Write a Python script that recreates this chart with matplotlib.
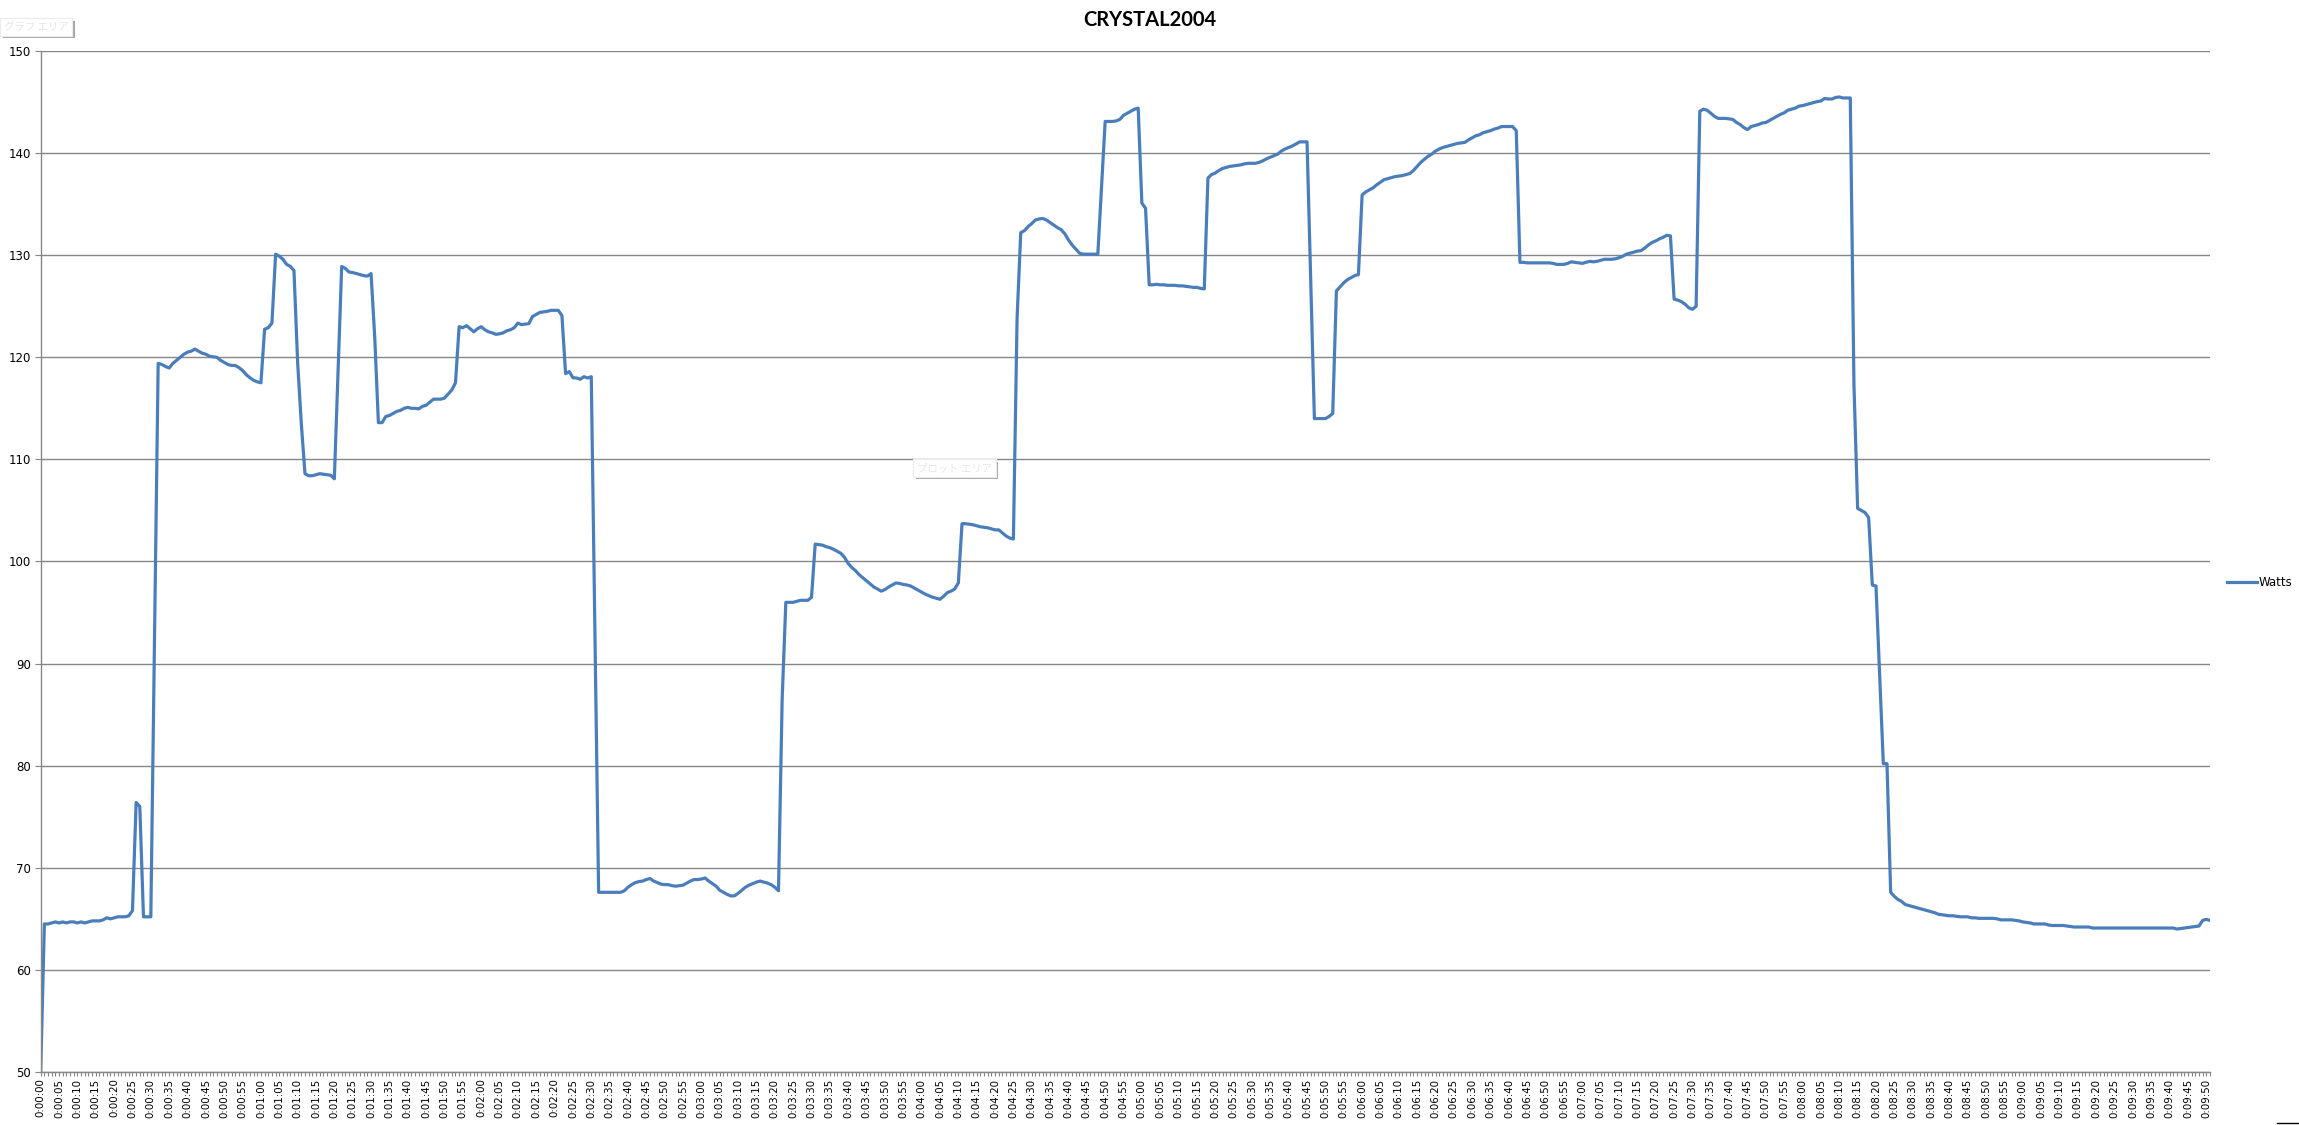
import numpy as np
import matplotlib
matplotlib.use("Agg")
import matplotlib.pyplot as plt
import matplotlib.patheffects as pe
from matplotlib.ticker import MultipleLocator, FixedLocator

# Watts sampled once per second, one list per minute
m0 = [50.0, 64.5, 64.5, 64.6, 64.7, 64.6, 64.7, 64.6, 64.7, 64.7,
      64.6, 64.7, 64.6, 64.7, 64.8, 64.8, 64.8, 64.9, 65.1, 65.0,
      65.1, 65.2, 65.2, 65.2, 65.3, 65.8, 76.4, 76.0, 65.2, 65.2,
      65.2, 92.0, 119.4, 119.3, 119.1, 118.95, 119.4, 119.7, 120.0, 120.3,
      120.5, 120.6, 120.8, 120.6, 120.4, 120.3, 120.1, 120.05, 120.0, 119.7,
      119.5, 119.3, 119.2, 119.2, 119.0, 118.7, 118.3, 118.0, 117.75, 117.6]
m1 = [117.5, 122.75, 122.9, 123.35, 130.1, 129.9, 129.6, 129.1, 128.9, 128.5,
      119.5, 113.5, 108.6, 108.4, 108.4, 108.5, 108.6, 108.55, 108.5, 108.45,
      108.1, 118.5, 128.9, 128.7, 128.35, 128.3, 128.2, 128.1, 128.0, 127.95,
      128.2, 122.0, 113.6, 113.6, 114.2, 114.3, 114.5, 114.7, 114.8, 115.0,
      115.1, 115.0, 115.0, 114.95, 115.2, 115.3, 115.6, 115.9, 115.9, 115.9,
      116.0, 116.4, 116.8, 117.5, 123.0, 122.9, 123.1, 122.8, 122.5, 122.8]
m2 = [123.0, 122.7, 122.5, 122.4, 122.25, 122.3, 122.4, 122.6, 122.7, 122.9,
      123.35, 123.2, 123.25, 123.3, 124.0, 124.2, 124.4, 124.45, 124.5, 124.6,
      124.6, 124.6, 124.1, 118.4, 118.6, 118.0, 117.97, 117.85, 118.1, 117.97,
      118.1, 93.0, 67.6, 67.6, 67.6, 67.6, 67.6, 67.6, 67.6, 67.75,
      68.1, 68.35, 68.55, 68.65, 68.7, 68.85, 68.95, 68.7, 68.55, 68.4,
      68.35, 68.35, 68.25, 68.2, 68.25, 68.3, 68.5, 68.7, 68.85, 68.85]
m3 = [68.9, 69.0, 68.7, 68.45, 68.2, 67.8, 67.6, 67.4, 67.25, 67.25,
      67.5, 67.8, 68.1, 68.3, 68.45, 68.6, 68.7, 68.6, 68.5, 68.35,
      68.1, 67.75, 86.5, 96.0, 96.0, 96.0, 96.1, 96.2, 96.2, 96.2,
      96.5, 101.7, 101.65, 101.6, 101.45, 101.35, 101.2, 101.0, 100.8, 100.4,
      99.8, 99.4, 99.1, 98.7, 98.4, 98.1, 97.8, 97.5, 97.3, 97.1,
      97.25, 97.5, 97.7, 97.9, 97.85, 97.75, 97.7, 97.6, 97.4, 97.2]
m4 = [97.0, 96.8, 96.65, 96.5, 96.4, 96.3, 96.6, 96.95, 97.1, 97.3,
      97.9, 103.7, 103.7, 103.65, 103.6, 103.5, 103.4, 103.35, 103.3, 103.2,
      103.1, 103.1, 102.8, 102.5, 102.3, 102.2, 123.8, 132.2, 132.4, 132.8,
      133.1, 133.45, 133.55, 133.6, 133.45, 133.2, 132.95, 132.7, 132.5, 132.1,
      131.5, 131.0, 130.6, 130.2, 130.1, 130.1, 130.1, 130.1, 130.1, 136.6,
      143.1, 143.1, 143.1, 143.15, 143.3, 143.7, 143.9, 144.1, 144.3, 144.4]
m5 = [135.1, 134.6, 127.1, 127.1, 127.15, 127.1, 127.1, 127.05, 127.05, 127.05,
      127.0, 127.0, 126.95, 126.9, 126.85, 126.85, 126.75, 126.7, 137.55, 137.9,
      138.05, 138.3, 138.5, 138.6, 138.7, 138.75, 138.8, 138.85, 138.95, 139.0,
      139.0, 139.0, 139.1, 139.25, 139.45, 139.6, 139.75, 139.9, 140.2, 140.4,
      140.55, 140.7, 140.9, 141.1, 141.1, 141.1, 127.5, 114.0, 114.0, 114.0,
      114.0, 114.2, 114.5, 126.5, 126.9, 127.3, 127.6, 127.8, 128.0, 128.1]
m6 = [135.9, 136.2, 136.4, 136.6, 136.9, 137.15, 137.4, 137.5, 137.6, 137.7,
      137.75, 137.8, 137.9, 138.0, 138.3, 138.7, 139.1, 139.4, 139.7, 139.9,
      140.2, 140.4, 140.55, 140.65, 140.75, 140.85, 140.95, 141.0, 141.05, 141.3,
      141.5, 141.7, 141.8, 142.0, 142.1, 142.2, 142.35, 142.45, 142.6, 142.6,
      142.6, 142.6, 142.2, 129.3, 129.3, 129.25, 129.25, 129.25, 129.25, 129.25,
      129.25, 129.25, 129.2, 129.1, 129.1, 129.1, 129.2, 129.35, 129.3, 129.25]
m7 = [129.2, 129.3, 129.4, 129.35, 129.4, 129.5, 129.6, 129.6, 129.6, 129.65,
      129.75, 129.9, 130.1, 130.2, 130.3, 130.4, 130.45, 130.7, 131.0, 131.25,
      131.4, 131.6, 131.75, 131.95, 131.9, 125.7, 125.6, 125.45, 125.2, 124.85,
      124.7, 125.0, 144.1, 144.3, 144.2, 143.9, 143.6, 143.4, 143.4, 143.4,
      143.35, 143.3, 143.0, 142.8, 142.5, 142.3, 142.6, 142.7, 142.8, 142.95,
      143.0, 143.2, 143.4, 143.6, 143.8, 143.95, 144.2, 144.3, 144.4, 144.6]
m8 = [144.65, 144.75, 144.85, 144.95, 145.05, 145.1, 145.35, 145.3, 145.3, 145.45,
      145.5, 145.4, 145.4, 145.4, 117.3, 105.2, 105.0, 104.8, 104.3, 97.7,
      97.6, 88.9, 80.2, 80.2, 67.6, 67.2, 66.9, 66.7, 66.4, 66.3,
      66.2, 66.1, 66.0, 65.9, 65.8, 65.7, 65.6, 65.45, 65.4, 65.35,
      65.3, 65.3, 65.25, 65.2, 65.2, 65.2, 65.1, 65.1, 65.05, 65.05,
      65.05, 65.05, 65.05, 65.0, 64.9, 64.9, 64.9, 64.9, 64.85, 64.8]
m9 = [64.7, 64.65, 64.6, 64.5, 64.5, 64.5, 64.5, 64.4, 64.35, 64.35,
      64.35, 64.35, 64.3, 64.25, 64.2, 64.2, 64.2, 64.2, 64.2, 64.1,
      64.1, 64.1, 64.1, 64.1, 64.1, 64.1, 64.1, 64.1, 64.1, 64.1,
      64.1, 64.1, 64.1, 64.1, 64.1, 64.1, 64.1, 64.1, 64.1, 64.1,
      64.1, 64.1, 64.0, 64.05, 64.1, 64.15, 64.2, 64.25, 64.3, 64.85,
      64.95, 64.85]

watts = np.array(m0 + m1 + m2 + m3 + m4 + m5 + m6 + m7 + m8 + m9)
secs = np.arange(len(watts))
labels = ["%d:%02d:%02d" % (s // 3600, (s // 60) % 60, s % 60) for s in secs]

W, H = 2299, 1125
fig = plt.figure(figsize=(W / 100, H / 100), dpi=100)
ax = fig.add_axes([40.7 / W, 53 / H, (2210 - 40.7) / W, (1072 - 51) / H])

ax.plot(secs, watts, color="#4a7ebb", lw=2.3, label="Watts", solid_joinstyle="round")

ax.set_xlim(0, len(watts) - 1)
ax.set_ylim(50, 150)
ax.yaxis.set_major_locator(MultipleLocator(10))
ax.grid(axis="y", color="#868686", lw=1.0)
ax.set_axisbelow(True)

major = secs[::5]
ax.xaxis.set_major_locator(FixedLocator(major))
ax.set_xticklabels(labels[::5], rotation=90, fontsize=7.4, family="DejaVu Sans")
ax.xaxis.set_minor_locator(MultipleLocator(1))
ax.tick_params(axis="x", which="both", length=3.2, width=0.8, color="#868686", pad=1.5)
ax.tick_params(axis="y", length=4, width=0.8, color="#868686", pad=3, labelsize=8.5)

for side in ("top", "right"):
    ax.spines[side].set_visible(False)
for side in ("left", "bottom"):
    ax.spines[side].set_color("#868686")
    ax.spines[side].set_linewidth(1.0)

fig.text(1150 / W, 1 - 20 / H, "CRYSTAL2004", ha="center", va="center",
         fontsize=14.5, fontweight="bold", family="Lato")

fig.legend(loc="center left", bbox_to_anchor=(2227 / W, 1 - 583 / H), frameon=False,
           fontsize=8.5, handlelength=2.5, handletextpad=0.2, borderpad=0, borderaxespad=0)

# faint Excel hover tooltips
for x, y, txt in [(4 / W, 1 - 27 / H, "グラフ エリア"), (917 / W, 1 - 468 / H, "プロット エリア")]:
    t = fig.text(x, y, txt, ha="left", va="center", fontsize=7.5, color="#e6e6e6",
                 family=["Noto Sans CJK JP", "DejaVu Sans"],
                 bbox=dict(boxstyle="square,pad=0.35", facecolor="white", edgecolor="#ececec", lw=0.8))
    t.get_bbox_patch().set_path_effects([
        pe.withSimplePatchShadow(offset=(2, -2), shadow_rgbFace="#909090", alpha=0.8), pe.Normal()])

fig.add_artist(plt.Line2D([2277 / W, 1.0], [2 / H, 2 / H], color="black", lw=1.0))

fig.savefig("out.png", dpi=100)
